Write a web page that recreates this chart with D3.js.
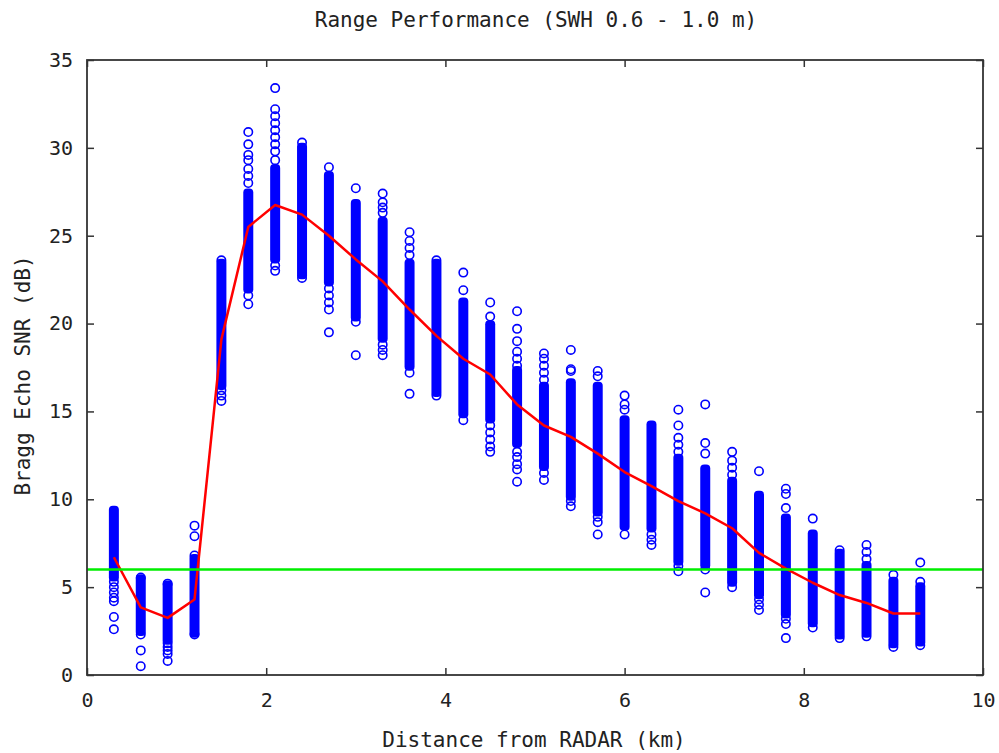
<!DOCTYPE html>
<html>
<head>
<meta charset="utf-8">
<script src="https://cdn.jsdelivr.net/npm/d3@7"></script>
<style>
  html, body { margin: 0; padding: 0; background: #fff; }
  svg { display: block; }
  text { font-family: "DejaVu Sans Mono", monospace; fill: #222; }
</style>
</head>
<body>
<svg id="chart" width="999" height="753"></svg>
<script>
// ---- data ----
const title = "Range Performance (SWH 0.6 - 1.0 m)";
const xLabel = "Distance from RADAR (km)";
const yLabel = "Bragg Echo SNR (dB)";
const xTicks = [0, 2, 4, 6, 8, 10];
const yTicks = [0, 5, 10, 15, 20, 25, 30, 35];
const threshold = 6;

// range bins (km)
const distances = [0.3, 0.6, 0.9, 1.2, 1.5, 1.8, 2.1, 2.4, 2.7, 3.0, 3.3, 3.6, 3.9, 4.2, 4.5, 4.8,
                   5.1, 5.4, 5.7, 6.0, 6.3, 6.6, 6.9, 7.2, 7.5, 7.8, 8.1, 8.4, 8.7, 9.0, 9.3];
// dense cloud of samples per bin: low / high SNR (dB)
const denseLow  = [5.6, 2.5, 2.0, 2.4, 16.5, 22.0, 23.7, 22.8, 22.4, 20.4, 19.2, 17.6, 16.1, 14.9, 14.6, 13.2,
                   11.9, 10.2, 9.3, 8.5, 8.4, 6.5, 6.3, 5.3, 4.6, 3.5, 3.0, 2.3, 2.4, 1.8, 1.9];
const denseHigh = [9.35, 5.45, 5.1, 6.6, 23.4, 27.4, 28.8, 30.0, 28.4, 26.8, 25.8, 23.4, 23.4, 21.2, 19.9, 17.3,
                   16.4, 16.6, 16.4, 14.5, 14.2, 12.3, 11.7, 11.0, 10.2, 8.9, 8.0, 6.9, 6.2, 5.3, 5.0];
// individual (sparse) samples per bin
const sparse = [
  [5.3, 5.0, 4.7, 4.4, 4.2, 3.3, 2.6],
  [5.55, 2.3, 1.4, 0.5],
  [5.2, 1.8, 1.6, 1.4, 1.2, 0.8],
  [6.8, 7.9, 8.5, 2.3],
  [23.6, 16.2, 15.9, 15.6],
  [28.0, 28.4, 28.8, 29.3, 29.6, 30.2, 30.9, 21.6, 21.1],
  [29.3, 29.8, 30.2, 30.6, 31.0, 31.4, 31.8, 32.2, 33.4, 23.3, 23.0],
  [30.3, 22.6],
  [28.9, 22.0, 21.6, 21.2, 20.8, 19.5],
  [27.7, 20.1, 18.2],
  [26.3, 26.6, 26.9, 27.4, 18.8, 18.5, 18.2],
  [23.9, 24.3, 24.7, 25.2, 17.2, 16.0],
  [23.6, 15.9],
  [21.9, 22.9, 14.5],
  [20.4, 21.2, 14.2, 13.8, 13.4, 13.0, 12.7],
  [17.6, 18.0, 18.4, 19.0, 19.7, 20.7, 12.7, 12.4, 12.0, 11.7, 11.0],
  [16.8, 17.2, 17.6, 18.0, 18.3, 11.5, 11.1],
  [17.3, 17.4, 18.5, 9.9, 9.6],
  [17.0, 17.3, 9.0, 8.7, 8.0],
  [15.1, 15.4, 15.9, 8.0],
  [8.0, 7.7, 7.4],
  [12.7, 13.1, 13.5, 14.2, 15.1, 6.2, 5.9],
  [12.6, 13.2, 15.4, 6.0, 4.7],
  [11.4, 11.8, 12.2, 12.7, 5.0],
  [11.6, 4.3, 4.0, 3.7],
  [9.5, 10.3, 10.6, 3.2, 2.9, 2.1],
  [8.9, 2.7],
  [7.1, 2.1],
  [6.6, 7.0, 7.4, 2.2],
  [5.7, 1.6],
  [5.3, 6.4, 1.7]
];
// mean SNR per bin (red line)
const meanSNR = [6.7, 3.85, 3.25, 4.3, 19.1, 25.5, 26.75, 26.2, 25.0, 23.65, 22.4, 20.8, 19.3, 18.0, 17.1, 15.4,
                 14.2, 13.55, 12.6, 11.55, 10.75, 9.9, 9.2, 8.35, 6.95, 6.05, 5.25, 4.55, 4.1, 3.5, 3.5];

// ---- layout ----
const L = 87, R = 983, T = 60, B = 675;
const svg = d3.select("#chart");
const x = d3.scaleLinear().domain([0, 10]).range([L, R]);
const y = d3.scaleLinear().domain([0, 35]).range([B, T]);

const blue = "#0000ff";
const pr = 4.2, psw = 1.6;           // point radius / stroke
const halfW = pr + psw / 2;

// dense bands
svg.append("g").selectAll("rect")
  .data(distances.map((d, i) => ({ d, lo: denseLow[i], hi: denseHigh[i] })))
  .join("rect")
  .attr("x", p => x(p.d) - halfW)
  .attr("y", p => y(p.hi) - halfW)
  .attr("width", 2 * halfW)
  .attr("height", p => y(p.lo) - y(p.hi) + 2 * halfW)
  .attr("rx", halfW * 0.8)
  .attr("fill", blue);

// individual samples
const pts = [];
distances.forEach((d, i) => sparse[i].forEach(v => pts.push({ d, v })));
svg.append("g").selectAll("circle")
  .data(pts)
  .join("circle")
  .attr("cx", p => x(p.d))
  .attr("cy", p => y(p.v))
  .attr("r", pr)
  .attr("fill", "none")
  .attr("stroke", blue)
  .attr("stroke-width", psw);

// mean line
svg.append("path")
  .datum(distances.map((d, i) => [d, meanSNR[i]]))
  .attr("fill", "none")
  .attr("stroke", "#ff0000")
  .attr("stroke-width", 2.5)
  .attr("stroke-linejoin", "round")
  .attr("d", d3.line().x(p => x(p[0])).y(p => y(p[1])));

// threshold
svg.append("line")
  .attr("x1", x(0)).attr("x2", x(10))
  .attr("y1", y(threshold)).attr("y2", y(threshold))
  .attr("stroke", "#00ee00")
  .attr("stroke-width", 2.5);

// axes (gnuplot style: inward ticks, mirrored)
const tickLen = 7;
const axisColor = "#333";
const gB = svg.append("g").attr("transform", `translate(0,${B})`)
  .call(d3.axisBottom(x).tickValues(xTicks).tickSizeInner(-tickLen).tickSizeOuter(0).tickPadding(18).tickFormat(d3.format("d")));
const gT = svg.append("g").attr("transform", `translate(0,${T})`)
  .call(d3.axisTop(x).tickValues(xTicks).tickSizeInner(-tickLen).tickSizeOuter(0).tickFormat(""));
const gL = svg.append("g").attr("transform", `translate(${L},0)`)
  .call(d3.axisLeft(y).tickValues(yTicks).tickSizeInner(-tickLen).tickSizeOuter(0).tickPadding(14).tickFormat(d3.format("d")));
const gR = svg.append("g").attr("transform", `translate(${R},0)`)
  .call(d3.axisRight(y).tickValues(yTicks).tickSizeInner(-tickLen).tickSizeOuter(0).tickFormat(""));
[gB, gT, gL, gR].forEach(g => {
  g.select(".domain").remove();
  g.selectAll("line").attr("stroke", axisColor).attr("stroke-width", 1.5);
  g.selectAll("text").attr("font-family", "DejaVu Sans Mono, monospace").attr("font-size", 20).attr("fill", "#222");
});
// plot frame
svg.append("rect")
  .attr("x", L).attr("y", T).attr("width", R - L).attr("height", B - T)
  .attr("fill", "none").attr("stroke", axisColor).attr("stroke-width", 1.8);

// titles
svg.append("text").attr("x", (L + R) / 2 + 1).attr("y", 27)
  .attr("text-anchor", "middle").attr("font-size", 21).text(title);
svg.append("text").attr("x", (L + R) / 2 - 1).attr("y", 747)
  .attr("text-anchor", "middle").attr("font-size", 21).text(xLabel);
svg.append("text").attr("transform", `translate(30,${(T + B) / 2 + 8}) rotate(-90)`)
  .attr("text-anchor", "middle").attr("font-size", 21).text(yLabel);
</script>
</body>
</html>
